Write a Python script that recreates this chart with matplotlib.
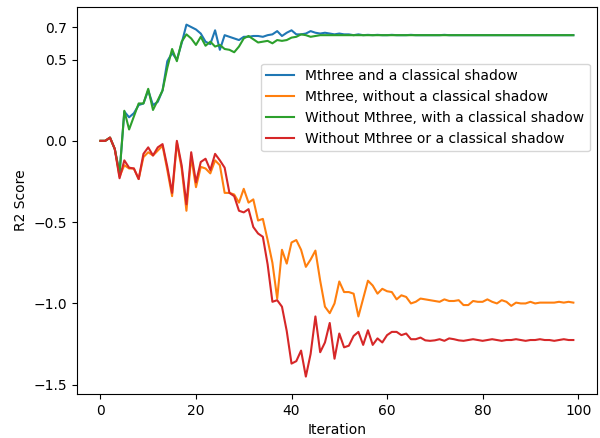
import numpy as np
import matplotlib
matplotlib.use("Agg")
import matplotlib.pyplot as plt


# =========================
# DATA
# =========================
iterations = list(range(100))

mthree_shadow = [
    0.0, 0.0, 0.02, -0.05, -0.2, 0.18, 0.145, 0.17, 0.22, 0.23,
    0.31, 0.22, 0.24, 0.31, 0.49, 0.54, 0.50, 0.60, 0.715, 0.70,
    0.685, 0.66, 0.61, 0.595, 0.68, 0.56, 0.65, 0.64, 0.63, 0.62,
    0.64, 0.64, 0.645, 0.645, 0.64, 0.65, 0.655, 0.675, 0.645, 0.665,
    0.68, 0.655, 0.655, 0.66, 0.675, 0.665, 0.66, 0.665, 0.66, 0.655,
    0.66, 0.655, 0.655, 0.65, 0.655, 0.65, 0.652, 0.65, 0.652, 0.65,
    0.65, 0.652, 0.65, 0.65, 0.65, 0.652, 0.65, 0.65, 0.65, 0.65,
    0.65, 0.65, 0.652, 0.65, 0.65, 0.65, 0.65, 0.65, 0.65, 0.65,
    0.65, 0.65, 0.65, 0.65, 0.65, 0.65, 0.65, 0.65, 0.65, 0.65,
    0.65, 0.65, 0.65, 0.65, 0.65, 0.65, 0.65, 0.65, 0.65, 0.65,
]

mthree_no_shadow = [
    0.0, 0.0, 0.02, -0.05, -0.22, -0.15, -0.17, -0.17, -0.235, -0.10,
    -0.07, -0.09, -0.06, -0.03, -0.18, -0.34, -0.01, -0.17, -0.43, -0.10,
    -0.285, -0.16, -0.17, -0.20, -0.12, -0.15, -0.32, -0.32, -0.33, -0.38,
    -0.295, -0.38, -0.36, -0.49, -0.48, -0.61, -0.75, -0.97, -0.67, -0.755,
    -0.625, -0.61, -0.67, -0.775, -0.73, -0.675, -0.86, -1.02, -1.06, -1.0,
    -0.865, -0.93, -0.93, -0.94, -1.08, -0.97, -0.86, -0.89, -0.94, -0.91,
    -0.925, -0.93, -0.975, -0.95, -0.96, -1.0, -0.99, -0.97, -0.975, -0.98,
    -0.985, -0.99, -0.975, -0.985, -0.985, -0.98, -1.01, -1.01, -0.985, -0.99,
    -0.99, -0.975, -0.99, -1.0, -0.98, -0.99, -1.015, -0.995, -1.0, -1.0,
    -0.99, -1.0, -0.995, -0.995, -0.995, -0.995, -0.99, -0.995, -0.99, -0.995,
]

no_mthree_shadow = [
    0.0, 0.0, 0.02, -0.05, -0.2, 0.185, 0.07, 0.15, 0.23, 0.23,
    0.32, 0.19, 0.25, 0.31, 0.45, 0.565, 0.49, 0.61, 0.655, 0.63,
    0.59, 0.64, 0.585, 0.61, 0.58, 0.59, 0.565, 0.56, 0.545, 0.58,
    0.63, 0.645, 0.625, 0.605, 0.61, 0.615, 0.60, 0.62, 0.615, 0.62,
    0.635, 0.64, 0.655, 0.65, 0.64, 0.645, 0.65, 0.65, 0.65, 0.65,
    0.65, 0.65, 0.65, 0.65, 0.65, 0.65, 0.65, 0.65, 0.65, 0.65,
    0.65, 0.65, 0.65, 0.65, 0.65, 0.65, 0.65, 0.65, 0.65, 0.65,
    0.65, 0.65, 0.65, 0.65, 0.65, 0.65, 0.65, 0.65, 0.65, 0.65,
    0.65, 0.65, 0.65, 0.65, 0.65, 0.65, 0.65, 0.65, 0.65, 0.65,
    0.65, 0.65, 0.65, 0.65, 0.65, 0.65, 0.65, 0.65, 0.65, 0.65,
]

no_mthree_no_shadow = [
    0.0, 0.0, 0.02, -0.05, -0.23, -0.12, -0.165, -0.17, -0.235, -0.08,
    -0.04, -0.09, -0.04, -0.02, -0.16, -0.32, 0.0, -0.15, -0.39, -0.07,
    -0.255, -0.13, -0.11, -0.18, -0.08, -0.12, -0.165, -0.32, -0.34, -0.43,
    -0.44, -0.42, -0.53, -0.57, -0.59, -0.76, -0.99, -0.98, -1.02, -1.17,
    -1.37, -1.355, -1.29, -1.45, -1.31, -1.08, -1.30, -1.24, -1.12, -1.34,
    -1.185, -1.27, -1.26, -1.20, -1.175, -1.255, -1.165, -1.255, -1.215, -1.24,
    -1.195, -1.175, -1.175, -1.195, -1.185, -1.22, -1.22, -1.21, -1.227, -1.23,
    -1.227, -1.22, -1.23, -1.215, -1.22, -1.227, -1.23, -1.225, -1.22, -1.225,
    -1.23, -1.225, -1.22, -1.225, -1.23, -1.225, -1.225, -1.22, -1.225, -1.23,
    -1.225, -1.225, -1.22, -1.225, -1.225, -1.23, -1.225, -1.22, -1.225, -1.225,
]

labels = [
    "Mthree and a classical shadow",
    "Mthree, without a classical shadow",
    "Without Mthree, with a classical shadow",
    "Without Mthree or a classical shadow",
]

y_ticks = [-1.5, -1.0, -0.5, 0.0, 0.5, 0.7]


# =========================
# PLOT
# =========================
fig = plt.figure(figsize=(6.0, 4.38), dpi=100)
ax = fig.add_axes([0.128, 0.1, 0.867, 0.884])

series = [mthree_shadow, mthree_no_shadow, no_mthree_shadow, no_mthree_no_shadow]
for values, label in zip(series, labels):
    ax.plot(iterations, values, label=label)

ax.set_yticks(y_ticks)
ax.set_xlabel("Iteration")
ax.set_ylabel("R2 Score")
ax.legend(loc="upper right", bbox_to_anchor=(1.0, 0.872))

fig.savefig("out.png", dpi=100)
plt.close(fig)
